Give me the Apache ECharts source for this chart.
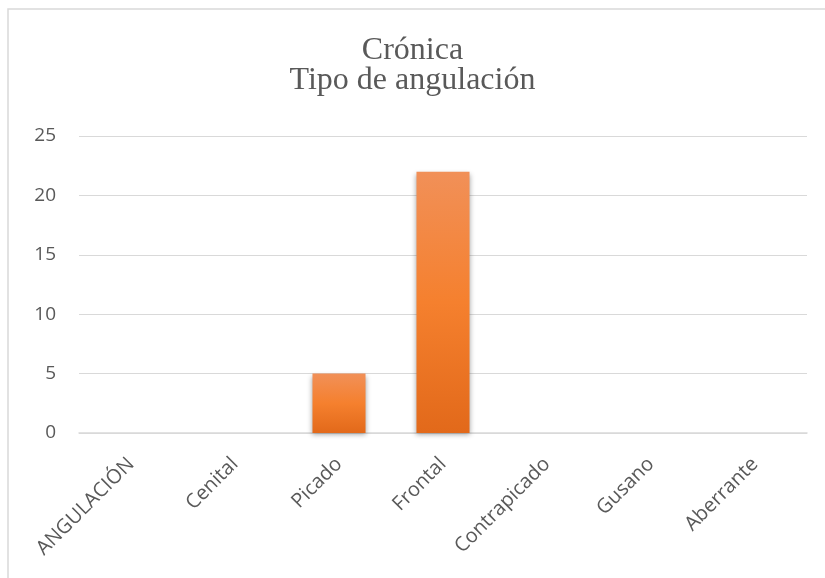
<!DOCTYPE html>
<html>
<head>
<meta charset="utf-8">
<script src="https://cdn.jsdelivr.net/npm/echarts@6/dist/echarts.min.js"></script>
<style>
  html, body { margin: 0; padding: 0; background: #fff; }
  #main { width: 825px; height: 578px; }
</style>
</head>
<body>
<div id="main"></div>
<script>
var myChart = echarts.init(document.getElementById('main'));

// data
var categories = ['ANGULACIÓN', 'Cenital', 'Picado', 'Frontal', 'Contrapicado', 'Gusano', 'Aberrante'];
var values = [0, 0, 5, 22, 0, 0, 0];
var titleLines = ['Crónica', 'Tipo de angulación'];

var option = {
    backgroundColor: '#fff',
    animation: false,
    title: {
        text: titleLines.join('\n'),
        left: 'center',
        top: 31,
        textStyle: {
            fontFamily: 'Liberation Serif',
            fontWeight: 'normal',
            fontSize: 32,
            lineHeight: 30,
            color: '#595959'
        }
    },
    // frame of the chart area (only left and top edges show)
    graphic: [
        {
            type: 'polyline',
            shape: { points: [[8, 578], [8, 9], [825, 9]] },
            style: { stroke: '#d9d9d9', lineWidth: 1.5, fill: null }
        }
    ],
    grid: {
        left: 79,
        right: 18,
        top: 136,
        bottom: 145
    },
    xAxis: {
        type: 'category',
        data: categories,
        axisLine: { lineStyle: { color: '#d9d9d9', width: 1.5 } },
        axisTick: { show: false },
        axisLabel: {
            rotate: 45,
            interval: 0,
            margin: 28,
            fontFamily: 'Open Sans',
            fontSize: 20,
            color: '#595959'
        }
    },
    yAxis: {
        type: 'value',
        min: 0,
        max: 25,
        interval: 5,
        axisLine: { show: false },
        axisTick: { show: false },
        splitLine: { lineStyle: { color: '#d9d9d9', width: 1 } },
        axisLabel: {
            margin: 23,
            fontFamily: 'Open Sans',
            fontSize: 19,
            color: '#595959'
        }
    },
    series: [
        {
            type: 'bar',
            data: values,
            barWidth: '51%',
            itemStyle: {
                color: new echarts.graphic.LinearGradient(0, 0, 0, 1, [
                    { offset: 0, color: '#f19058' },
                    { offset: 0.5, color: '#f5802e' },
                    { offset: 1, color: '#e2691a' }
                ]),
                shadowColor: 'rgba(0,0,0,0.35)',
                shadowBlur: 5,
                shadowOffsetY: 2
            }
        }
    ]
};

myChart.setOption(option);
</script>
</body>
</html>
